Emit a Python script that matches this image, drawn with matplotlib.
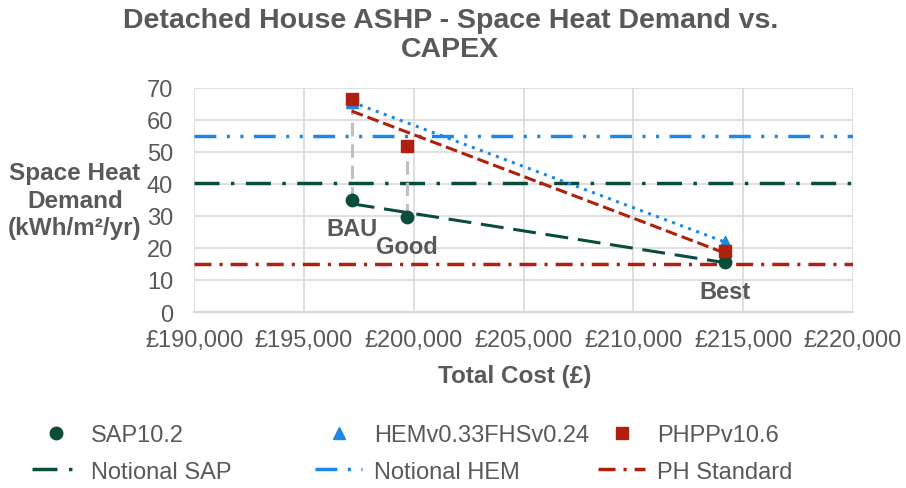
import matplotlib
matplotlib.use("Agg")
import matplotlib.pyplot as plt
import numpy as np
from matplotlib.lines import Line2D
from matplotlib.ticker import FuncFormatter

plt.rcParams['font.family'] = ['Liberation Sans', 'DejaVu Sans']

# ---- data ----
scenarios = ["BAU", "Good", "Best"]
cost = [197180, 199680, 214180]
sap = [35.0, 29.6, 15.6]
hem_cost = [197180, 214180]
hem = [65.5, 21.8]
phpp = [66.4, 51.8, 19.0]
notional_sap = 40.2
notional_hem = 54.8
ph_standard = 15.0
drop_idx = [0, 1]  # scenarios with vertical drop lines

GREEN = "#0B4D3B"
BLUE = "#1E88E5"
RED = "#B0200F"
TXT = "#595959"
GRID = "#D9D9D9"

DASH_NSAP = (7.2, 3.3, 1.0, 3.3)
DASH_NHEM = (6.3, 3.0, 0.9, 3.0, 0.9, 3.0)
DASH_PH = (4.9, 2.3, 0.9, 2.3)

fig = plt.figure(figsize=(9.06, 4.89), dpi=100)
ax = fig.add_axes([194/906, 1-313/489, (853-194)/906, (313-88.6)/489])

xlim = (190000, 220000)
ax.set_xlim(*xlim)
ax.set_ylim(0, 70)
ax.set_xticks(np.arange(190000, 220001, 5000))
ax.set_yticks(np.arange(0, 71, 10))
ax.xaxis.set_major_formatter(FuncFormatter(lambda v, p: "£{:,.0f}".format(v)))
ax.grid(True, color=GRID, lw=1.2, zorder=0)
for s in ax.spines.values():
    s.set_visible(False)
ax.spines['bottom'].set_visible(True)
ax.spines['bottom'].set_color(GRID)
ax.spines['bottom'].set_linewidth(1.5)
ax.tick_params(length=0, labelsize=17, labelcolor=TXT)
ax.tick_params(axis='x', pad=12)
ax.tick_params(axis='y', pad=15)

# horizontal reference lines
ax.plot(xlim, [notional_sap]*2, color=GREEN, lw=2.5, dashes=DASH_NSAP, zorder=2)
ax.plot(xlim, [notional_hem]*2, color=BLUE, lw=2.5, dashes=DASH_NHEM, zorder=2)
ax.plot(xlim, [ph_standard]*2, color=RED, lw=2.5, dashes=DASH_PH, zorder=2)

# drop lines
for i in drop_idx:
    ax.plot([cost[i], cost[i]], [sap[i], phpp[i]], color="#BFBFBF", lw=2.2,
            dashes=(4.4, 2.6), zorder=3)

# linear trendlines
def trend(xs, ys):
    k, b = np.polyfit(xs, ys, 1)
    xx = np.array([min(xs), max(xs)])
    return xx, k * xx + b

tx, ty = trend(cost, sap)
ax.plot(tx, ty, color=GREEN, lw=2.2, dashes=(7.5, 3.2), zorder=4)
tx, ty = trend(hem_cost, hem)
ax.plot(tx, ty, color=BLUE, lw=2.2, dashes=(1, 1.8), zorder=4)
tx, ty = trend(cost, phpp)
ax.plot(tx, ty, color=RED, lw=2.2, dashes=(3.9, 1.6), zorder=4)

# markers
ax.scatter(cost, sap, s=80, marker='o', color=GREEN, zorder=6)
ax.scatter(hem_cost, hem, s=75, marker='^', color=BLUE, zorder=6)
ax.scatter(cost, phpp, s=75, marker='s', color=RED, zorder=7)

# data labels
for x, y, lab in zip(cost, sap, scenarios):
    ax.annotate(lab, (x, y), xytext=(0, -21), textcoords='offset points',
                ha='center', va='center', fontsize=17, fontweight='bold', color=TXT, zorder=8)

# titles & labels
fig.text(0.497, 1-8/489, "Detached House ASHP - Space Heat Demand vs.\nCAPEX",
         ha='center', va='top', fontsize=20.5, fontweight='bold', color=TXT, linespacing=1.15)
fig.text(75/906, 1-201/489, "Space Heat\nDemand\n(kWh/m²/yr)", ha='center', va='center',
         fontsize=17.5, fontweight='bold', color=TXT, linespacing=1.27)
fig.text(515/906, 1-377/489, "Total Cost (£)", ha='center', va='center',
         fontsize=17.5, fontweight='bold', color=TXT)

# legend: three columns, two rows each
cols = [
    ([Line2D([], [], ls='none', marker='o', color=GREEN, ms=9),
      Line2D([], [], color=GREEN, lw=2.5, dashes=DASH_NSAP)],
     ["SAP10.2", "Notional SAP"], 32),
    ([Line2D([], [], ls='none', marker='^', color=BLUE, ms=9),
      Line2D([], [], color=BLUE, lw=2.5, dashes=DASH_NHEM)],
     ["HEMv0.33FHSv0.24", "Notional HEM"], 315),
    ([Line2D([], [], ls='none', marker='s', color=RED, ms=8.5),
      Line2D([], [], color=RED, lw=2.5, dashes=DASH_PH)],
     ["PHPPv10.6", "PH Standard"], 598),
]
for h, l, xpx in cols:
    fig.legend(h, l, loc='upper left', bbox_to_anchor=(xpx/906, 1-425/489),
               frameon=False, fontsize=17, labelcolor=TXT, handlelength=2.0,
               handletextpad=0.5, labelspacing=0.62, borderpad=0, borderaxespad=0)

fig.savefig("out.png", dpi=100)
